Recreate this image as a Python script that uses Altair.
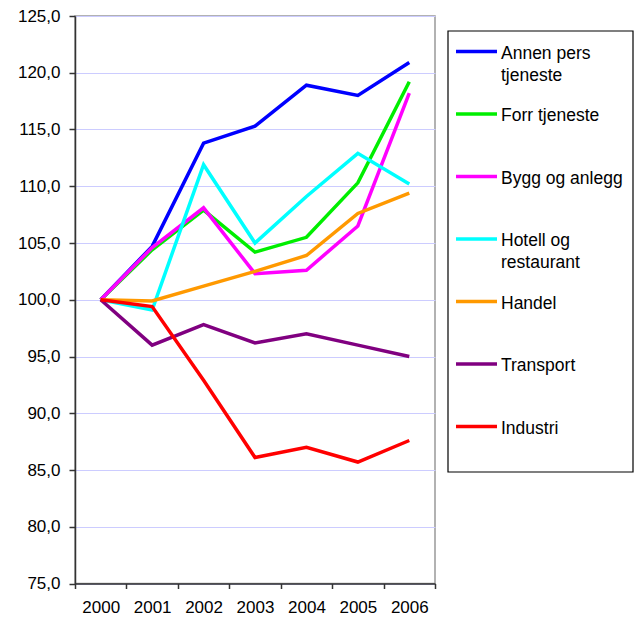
import altair as alt
import pandas as pd

years = ["2000", "2001", "2002", "2003", "2004", "2005", "2006"]
series = ["Annen pers tjeneste", "Forr tjeneste", "Bygg og anlegg",
          "Hotell og restaurant", "Handel", "Transport", "Industri"]
legend_labels = ["Annen pers\ntjeneste", "Forr tjeneste", "Bygg og anlegg",
                 "Hotell og\nrestaurant", "Handel", "Transport", "Industri"]
colors = ["#0000FF", "#00EE00", "#FF00FF", "#00FFFF", "#FF9900", "#800080", "#FF0000"]

annen = [100.0, 104.7, 113.8, 115.3, 118.9, 118.0, 120.9]
forr = [100.0, 104.4, 107.9, 104.2, 105.5, 110.3, 119.2]
bygg = [100.0, 104.6, 108.1, 102.3, 102.6, 106.5, 118.2]
hotell = [100.0, 99.1, 111.9, 105.0, 109.1, 112.9, 110.2]
handel = [100.0, 99.9, 101.2, 102.5, 103.9, 107.6, 109.4]
transport = [100.0, 96.0, 97.8, 96.2, 97.0, 96.0, 95.0]
industri = [100.0, 99.4, 92.9, 86.1, 87.0, 85.7, 87.6]

y_ticks = [75, 80, 85, 90, 95, 100, 105, 110, 115, 120, 125]

values = [annen, forr, bygg, hotell, handel, transport, industri]
rows = []
for si, (s, vals) in enumerate(zip(series, values)):
    for y, v in zip(years, vals):
        rows.append({"series": s, "year": y, "value": v, "ord": si})
df = pd.DataFrame(rows)
leg = pd.DataFrame({"series": series, "label": legend_labels})

FONT = "Liberation Sans"
color = alt.Color("series:N", scale=alt.Scale(domain=series, range=colors), legend=None)

lines = alt.Chart(df).mark_line(strokeWidth=3.5).encode(
    x=alt.X("year:O", sort=years, bandPosition=0.5,
            scale=alt.Scale(type="band", paddingInner=0, paddingOuter=0),
            axis=alt.Axis(title=None, tickBand="extent", labelAngle=0, grid=False,
                          domainColor="#333333", domainWidth=1.5, tickColor="#333333",
                          tickWidth=1.5, tickSize=5, labelPadding=11,
                          labelFont=FONT, labelFontSize=17, labelColor="#000000")),
    y=alt.Y("value:Q", scale=alt.Scale(domain=[75, 125], nice=False, zero=False),
            axis=alt.Axis(title=None, values=y_ticks, grid=True, gridColor="#ccccff",
                          gridWidth=1.2, domainColor="#333333", domainWidth=1.5,
                          tickColor="#333333", tickWidth=1.5, tickSize=6, labelPadding=9,
                          labelFont=FONT, labelFontSize=17, labelColor="#000000",
                          labelExpr="replace(format(datum.value, '.1f'), '.', ',')")),
    color=color,
    detail="series:N",
    order="ord:Q",
)

box = alt.Chart(alt.Data(values=[{}])).mark_rect(
    fill="white", stroke="#000000", strokeWidth=1.2
).encode(x=alt.value(373), x2=alt.value(558), y=alt.value(15), y2=alt.value(456))

ly = alt.Y("series:N", sort=series, axis=None,
           scale=alt.Scale(type="point", range=[35.5, 410.5], padding=0))

leg_rules = alt.Chart(leg).mark_rule(strokeWidth=3.5).encode(
    x=alt.value(381), x2=alt.value(422), y=ly, color=color)

leg_text = alt.Chart(leg).mark_text(
    align="left", baseline="alphabetic", dy=7, lineBreak="\n", lineHeight=22,
    font=FONT, fontSize=17.5, color="#000000"
).encode(x=alt.value(426), y=ly, text="label:N")

legend_layer = alt.layer(box, leg_rules, leg_text)

chart = alt.layer(lines, legend_layer).resolve_scale(y="independent").properties(
    width=360, height=567.5,
    autosize=alt.AutoSizeParams(type="none"),
    padding={"left": 67, "top": 8, "right": 200, "bottom": 35},
).configure_view(stroke="#999999", strokeWidth=1.5)

chart.save("out.html", embed_options={"renderer": "svg", "actions": False})
